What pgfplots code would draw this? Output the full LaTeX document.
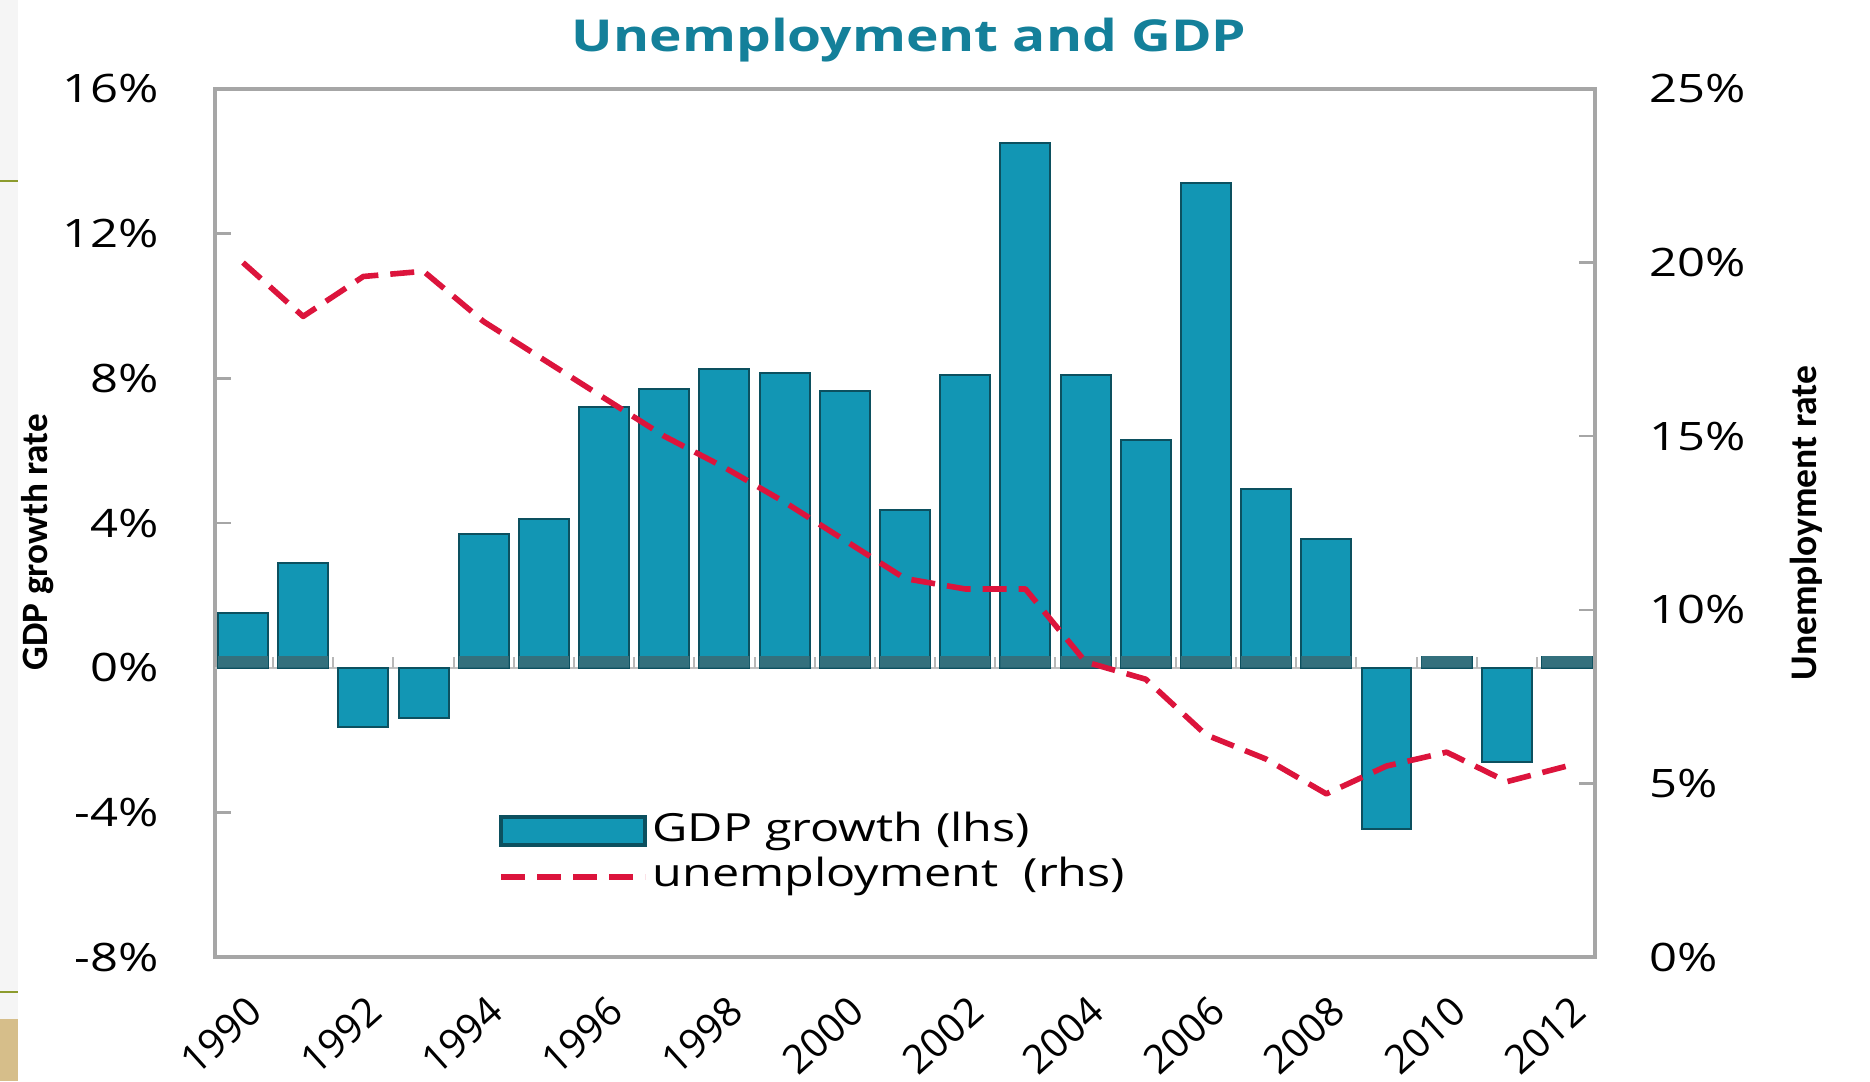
\documentclass[border=0pt]{standalone}
\usepackage{fontspec}
\setmainfont{Open Sans}[FakeStretch=1.25]
\newfontfamily\plainfont{Open Sans}
\newfontfamily\labelfont{Carlito}
\usepackage{pgfplots}
\pgfplotsset{compat=1.18}
\definecolor{barfill}{RGB}{18,150,180}
\definecolor{baredge}{RGB}{12,80,95}
\definecolor{barbase}{RGB}{52,112,125}
\definecolor{unemp}{RGB}{220,20,60}
\definecolor{titlecol}{RGB}{20,128,154}
\definecolor{axisgray}{RGB}{166,166,166}
\definecolor{olive}{RGB}{140,155,45}
\definecolor{beige}{RGB}{214,190,138}
\begin{document}
\begin{tikzpicture}
% slide decoration on the left edge
\fill[black!4] (0pt,0pt) rectangle (4.5pt,270.25pt);
\fill[beige] (0pt,0pt) rectangle (4.5pt,15.5pt);
\draw[olive, line width=0.6pt] (0pt,225pt) -- (4.5pt,225pt);
\draw[olive, line width=0.6pt] (0pt,22.25pt) -- (4.5pt,22.25pt);

\begin{axis}[
  at={(53.75pt,31pt)}, anchor=south west,
  width=345pt, height=217pt, scale only axis,
  xmin=1989.535, xmax=2012.465, ymin=-8, ymax=16,
  axis line style={axisgray, line width=0.8pt},
  xtick={1990,1992,...,2012},
  xticklabels={1990,1992,1994,1996,1998,2000,2002,2004,2006,2008,2010,2012},
  x tick style={draw=none},
  ytick={-8,-4,0,4,8,12,16},
  yticklabels={-8\%,-4\%,0\%,4\%,8\%,12\%,16\%},
  y tick style={axisgray, line width=0.6pt},
  tick align=inside, major tick length=4pt,
  ytick pos=left, xtick pos=bottom,
  tick label style={font=\fontsize{9.8}{11}\selectfont},
  yticklabel style={xshift=-10.5pt},
  xticklabel style={font=\plainfont\fontsize{10}{12}\selectfont,
    inner sep=0pt, xshift=0.5pt, yshift=-9pt, rotate=42, anchor=north east},
  ylabel={GDP growth rate},
  ylabel style={font=\labelfont\bfseries\fontsize{9.3}{11}\selectfont,
    at={(axis description cs:-0.1283,0.478)}, anchor=center},
  title={Unemployment and GDP},
  title style={font=\bfseries\fontsize{11}{13}\selectfont, text=titlecol,
    at={(axis description cs:0.503,1)}, anchor=center, yshift=6.3pt},
]
\addplot[axisgray!70, line width=0.5pt] coordinates {(1989.535,0) (2012.465,0)};
\addplot[axisgray!80, ycomb, line width=0.5pt] coordinates {
 (1990.5,0.3) (1991.5,0.3) (1992.5,0.3) (1993.5,0.3) (1994.5,0.3) (1995.5,0.3)
 (1996.5,0.3) (1997.5,0.3) (1998.5,0.3) (1999.5,0.3) (2000.5,0.3) (2001.5,0.3)
 (2002.5,0.3) (2003.5,0.3) (2004.5,0.3) (2005.5,0.3) (2006.5,0.3) (2007.5,0.3)
 (2008.5,0.3) (2009.5,0.3) (2010.5,0.3) (2011.5,0.3)};
\addplot[ybar, bar width=0.83, fill=barfill, draw=baredge, line width=0.5pt] coordinates {
 (1990,1.5) (1991,2.9) (1992,-1.65) (1993,-1.4) (1994,3.7) (1995,4.1)
 (1996,7.2) (1997,7.7) (1998,8.25) (1999,8.15) (2000,7.65) (2001,4.35)
 (2002,8.1) (2003,14.5) (2004,8.1) (2005,6.3) (2006,13.4) (2007,4.95)
 (2008,3.55) (2009,-4.45) (2010,0.3) (2011,-2.6) (2012,0.3)};
\addplot[ybar, bar width=0.83, fill=barbase, draw=none] coordinates {
 (1990,0.32) (1991,0.32) (1994,0.32) (1995,0.32) (1996,0.32) (1997,0.32)
 (1998,0.32) (1999,0.32) (2000,0.32) (2001,0.32) (2002,0.32) (2003,0.32)
 (2004,0.32) (2005,0.32) (2006,0.32) (2007,0.32) (2008,0.32) (2010,0.32)
 (2012,0.32)};
\end{axis}

\begin{axis}[
  at={(53.75pt,31pt)}, anchor=south west,
  width=345pt, height=217pt, scale only axis,
  xmin=1989.535, xmax=2012.465, ymin=0, ymax=25,
  axis x line=none, axis y line*=right,
  axis line style={axisgray, line width=0.8pt},
  ytick={0,5,10,15,20,25},
  yticklabels={0\%,5\%,10\%,15\%,20\%,25\%},
  y tick style={axisgray, line width=0.6pt},
  tick align=inside, major tick length=4pt,
  tick label style={font=\fontsize{9.8}{11}\selectfont},
  yticklabel style={xshift=10pt},
  ylabel={Unemployment rate},
  ylabel style={font=\labelfont\bfseries\fontsize{9.4}{11}\selectfont,
    at={(axis description cs:1.1529,0.5)}, anchor=center},
  legend style={draw=none, fill=none, at={(axis description cs:0.196,0.1187)},
    anchor=west, font=\fontsize{9.7}{11}\selectfont,
    nodes={inner sep=1.2pt, text height=7pt, text depth=2pt}, row sep=0pt},
  legend cell align=left,
]
\addlegendimage{legend image code/.code={\draw[fill=barfill, draw=baredge, line width=0.9pt] (0pt,-3.5pt) rectangle (36pt,3.5pt);}}
\addlegendentry{GDP growth (lhs)}
\addplot[unemp, line width=1.4pt, dash pattern=on 6pt off 3pt, line join=round,
  legend image code/.code={\draw[unemp, line width=1.4pt, dash pattern=on 6pt off 3pt] (0pt,0pt) -- (36pt,0pt);}] coordinates {
 (1990,20.0) (1991,18.45) (1992,19.6) (1993,19.75) (1994,18.3) (1995,17.2)
 (1996,16.1) (1997,15.0) (1998,14.1) (1999,13.1) (2000,12.0) (2001,10.9)
 (2002,10.6) (2003,10.6) (2004,8.5) (2005,8.0) (2006,6.4) (2007,5.7)
 (2008,4.7) (2009,5.5) (2010,5.9) (2011,5.05) (2012,5.5)};
\addlegendentry{unemployment\ \ (rhs)}
\end{axis}
\pgfresetboundingbox
\path (0pt,0pt) rectangle (467.5pt,270.25pt);
\end{tikzpicture}
\end{document}
